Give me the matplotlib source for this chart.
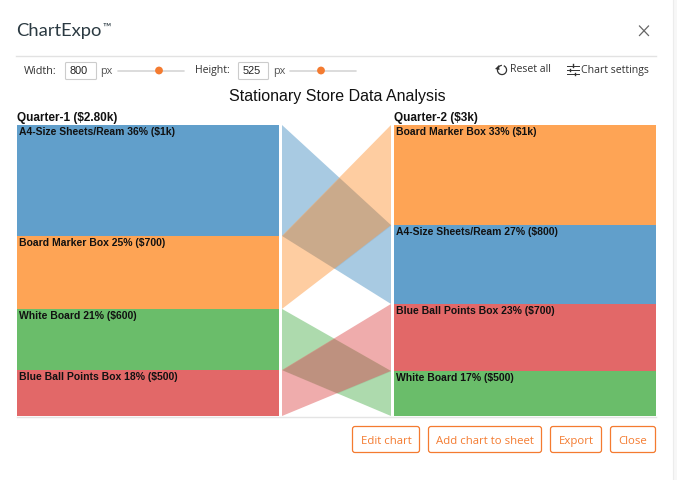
import math
import numpy as np
import matplotlib
matplotlib.use('Agg')
import matplotlib.pyplot as plt
from matplotlib.patches import FancyBboxPatch, Circle, Polygon, Rectangle

W, H = 677, 480

# data
categories = ['A4-Size Sheets/Ream', 'Board Marker Box', 'White Board', 'Blue Ball Points Box']
colors = ['#619fcb', '#fea455', '#6abd6a', '#e26868']

q1_order = [0, 1, 2, 3]
q1_shares = [38.1, 25.1, 21.0, 15.8]
q1_pct = ['36%', '25%', '21%', '18%']
q1_money = ['$1k', '$700', '$600', '$500']

q2_order = [1, 0, 3, 2]
q2_shares = [34.4, 27.1, 23.0, 15.5]
q2_pct = ['33%', '27%', '23%', '17%']
q2_money = ['$1k', '$800', '$700', '$500']

title = 'Stationary Store Data Analysis'
q1_title = 'Quarter-1 ($2.80k)'
q2_title = 'Quarter-2 ($3k)'
buttons = ['Edit chart', 'Add chart to sheet', 'Export', 'Close']

ORANGE = '#f47b30'
GREY = '#333333'

fig = plt.figure(figsize=(W / 100, H / 100), dpi=100, facecolor='white')

# page chrome, in pixels from the top left
ui = fig.add_axes([0, 0, 1, 1])
ui.set_xlim(0, W)
ui.set_ylim(H, 0)
ui.axis('off')


def txt(x, y, s, size=9, color=GREY, family='Open Sans', **kw):
    kw.setdefault('va', 'center')
    # Open Sans sits high when centred
    if family == 'Open Sans' and kw['va'] == 'center':
        y += 1.5
    ui.text(x, y, s, fontsize=size, color=color, family=family, **kw)


def box(x0, y0, x1, y1, ec, lw=1.0, r=2):
    ui.add_patch(FancyBboxPatch((x0, y0), x1 - x0, y1 - y0,
                                boxstyle='round,pad=0,rounding_size=%s' % r,
                                fc='white', ec=ec, lw=lw))


def slider(x0, x1, xk, y):
    ui.plot([x0, x1], [y, y], color='#d6d6d6', lw=1.2, solid_capstyle='round')
    ui.add_patch(Circle((xk, y), 3.9, fc=ORANGE, ec='none', zorder=3))


# modal edge on the right
ui.add_patch(Rectangle((673, 0), 4, H, fc='#f7f7f7', ec='none'))
ui.plot([672.5, 672.5], [0, H], color='#ececec', lw=0.8)

txt(16.5, 31, 'ChartExpo', size=13.2, color='#2b3a42', family='Lato')
txt(102.5, 27, '\u2122', size=8, color='#2b3a42', family='Lato')
ui.plot([639.5, 648.5], [26, 35.5], color='#666666', lw=0.9)
ui.plot([639.5, 648.5], [35.5, 26], color='#666666', lw=0.9)
ui.plot([16, 656], [55.5, 55.5], color='#e2e2e2', lw=1)

txt(24, 69.5, 'Width:', size=7.8)
box(65.5, 62.5, 96.5, 79.5, '#cccccc', lw=0.8, r=1)
txt(70, 71.5, '800', size=7.8, family='Liberation Sans', color='#222222')
txt(100, 70, 'px', size=7.8, color='#555555')
slider(118, 184, 159, 70.5)

txt(195, 69.5, 'Height:', size=7.6)
box(238.5, 62.5, 268.5, 79.5, '#cccccc', lw=0.8, r=1)
txt(243, 71.5, '525', size=7.8, family='Liberation Sans', color='#222222')
txt(273, 70, 'px', size=7.8, color='#555555')
slider(290, 356, 321, 70.5)

# reset icon and settings icon
theta = [i * 0.35 for i in range(-3, 14)]
ui.plot([502 + 4.6 * math.cos(t) for t in theta], [70 + 4.6 * math.sin(t) for t in theta],
        color=GREY, lw=0.9)
ui.add_patch(Polygon([[495, 69], [499, 65], [499.5, 70]], fc=GREY, ec='none'))
txt(510, 68.5, 'Reset all', size=7.6)
for yy, xm in [(65.5, 573), (70, 570), (74, 575)]:
    ui.plot([567, 579], [yy, yy], color=GREY, lw=0.7)
    ui.plot([xm, xm], [yy - 1.2, yy + 1.2], color=GREY, lw=1.0)
txt(581, 68.5, 'Chart settings', size=7.6)

# chart
ax = fig.add_axes([17 / W, 1 - 416 / H, (656 - 17) / W, (416 - 125) / H])
ax.set_xlim(17, 656)
ax.set_ylim(100, 0)
ax.axis('off')
ax.patch.set_alpha(0)

left_bar = (17, 279)
right_bar = (394, 656)
rib_left, rib_right = 282, 391


def stack(shares):
    tops = []
    total = 0
    for s in shares:
        tops.append(total)
        total += s
    return tops


q1_tops = stack(q1_shares)
q2_tops = stack(q2_shares)

for i, cat in enumerate(q1_order):
    ax.bar(left_bar[0], q1_shares[i], width=left_bar[1] - left_bar[0], bottom=q1_tops[i],
           align='edge', color=colors[cat], lw=0)
    ax.text(left_bar[0] + 2, q1_tops[i] + 2.4, '%s %s (%s)' % (categories[cat], q1_pct[i], q1_money[i]),
            fontsize=7.5, fontweight='bold', family='Liberation Sans', color='#111111', va='center')

for i, cat in enumerate(q2_order):
    ax.bar(right_bar[0], q2_shares[i], width=right_bar[1] - right_bar[0], bottom=q2_tops[i],
           align='edge', color=colors[cat], lw=0)
    ax.text(right_bar[0] + 2, q2_tops[i] + 2.4, '%s %s (%s)' % (categories[cat], q2_pct[i], q2_money[i]),
            fontsize=7.5, fontweight='bold', family='Liberation Sans', color='#111111', va='center')

# ribbons between the two columns
xs = np.linspace(rib_left, rib_right, 400)
edges = {}
for cat in q1_order:
    i = q1_order.index(cat)
    j = q2_order.index(cat)
    ax.fill([rib_left, rib_right, rib_right, rib_left],
            [q1_tops[i], q2_tops[j], q2_tops[j] + q2_shares[j], q1_tops[i] + q1_shares[i]],
            color=colors[cat], alpha=0.55, lw=0)
    edges[cat] = (np.interp(xs, [rib_left, rib_right], [q1_tops[i], q2_tops[j]]),
                  np.interp(xs, [rib_left, rib_right],
                            [q1_tops[i] + q1_shares[i], q2_tops[j] + q2_shares[j]]))

# the crossings come out darker than plain alpha stacking
for a, b in [(0, 1), (2, 3)]:
    upper = np.maximum(edges[a][0], edges[b][0])
    lower = np.minimum(edges[a][1], edges[b][1])
    ax.fill_between(xs, upper, lower, where=upper < lower, color='black', alpha=0.06, lw=0)

ui.plot([17, 656], [417, 417], color='#e4e4e4', lw=1)

txt(229, 96.5, title, size=11.5, color='#111111', family='Liberation Sans')
txt(17, 117.5, q1_title, size=8.5, color='#111111', family='Liberation Sans', fontweight='bold')
txt(394, 117.5, q2_title, size=8.5, color='#111111', family='Liberation Sans', fontweight='bold')

# buttons
for (x0, x1), label in zip([(352, 420), (428, 542), (550, 602), (610, 656)], buttons):
    box(x0 + 0.5, 426.5, x1 - 0.5, 452.5, ORANGE, lw=0.9, r=2.5)
    txt((x0 + x1) / 2, 444, label, size=8.2, color=ORANGE, ha='center', va='baseline')

fig.savefig('out.png', dpi=100)
